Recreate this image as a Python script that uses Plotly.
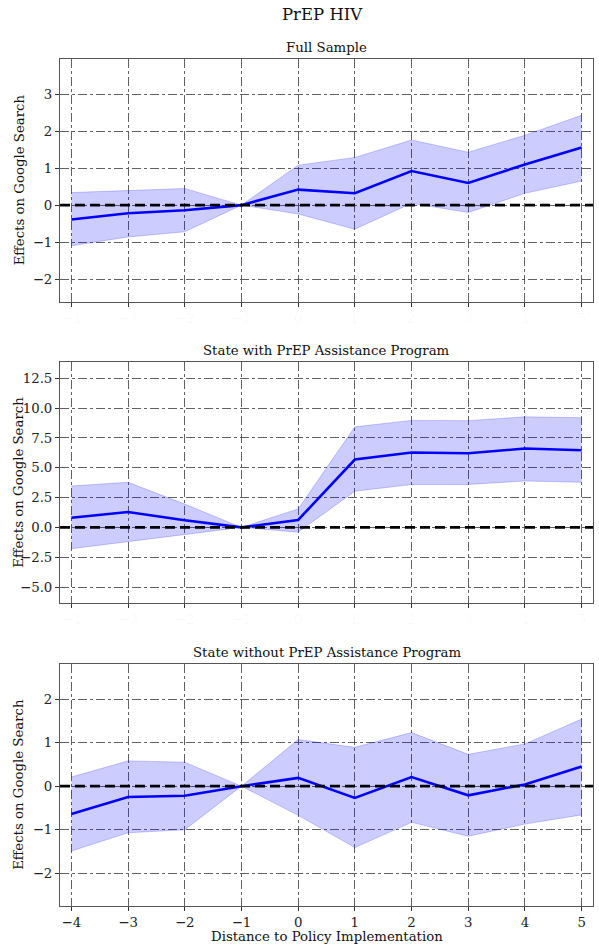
import plotly.graph_objects as go

# ---------------- data ----------------
periods = [-4, -3, -2, -1, 0, 1, 2, 3, 4, 5]

full_est = [-0.39, -0.22, -0.14, 0, 0.42, 0.32, 0.92, 0.60, 1.10, 1.56]
full_hi = [0.34, 0.40, 0.45, 0, 1.08, 1.29, 1.76, 1.43, 1.89, 2.43]
full_lo = [-1.10, -0.86, -0.72, 0, -0.24, -0.65, 0.05, -0.20, 0.32, 0.65]

with_est = [0.81, 1.29, 0.60, 0, 0.62, 5.69, 6.28, 6.22, 6.61, 6.47]
with_hi = [3.47, 3.78, 1.95, 0, 1.55, 8.43, 8.97, 8.95, 9.27, 9.19]
with_lo = [-1.79, -1.18, -0.60, 0, -0.40, 3.03, 3.59, 3.60, 3.89, 3.78]

without_est = [-0.64, -0.25, -0.22, 0, 0.19, -0.27, 0.21, -0.21, 0.04, 0.45]
without_hi = [0.21, 0.58, 0.55, 0, 1.07, 0.89, 1.23, 0.73, 0.97, 1.54]
without_lo = [-1.49, -1.07, -1.00, 0, -0.67, -1.41, -0.83, -1.15, -0.87, -0.66]

panel_titles = ["Full Sample", "State with PrEP Assistance Program",
                "State without PrEP Assistance Program"]
main_title = "PrEP HIV"
y_title = "Effects on Google Search"
x_title = "Distance to Policy Implementation"

panels = [
    (full_est, full_hi, full_lo, [-2.61, 3.95], 1, None),
    (with_est, with_hi, with_lo, [-6.34, 13.84], 2.5, ".1f"),
    (without_est, without_hi, without_lo, [-2.75, 2.81], 1, None),
]

# ---------------- layout geometry (pixels) ----------------
W, H = 599, 947
L, R = 60, 593
T, B = 59, 906
ph = B - T
panel_px = [(59, 301.7), (362.3, 603), (663.7, 906)]


def ydom(top, bot):
    return [(B - bot) / ph, (B - top) / ph]


FONT = "DejaVu Serif"
FS = 13.3
fig = go.Figure()

for i, (est, hi, lo, yr, dt, fmt) in enumerate(panels):
    n = "" if i == 0 else str(i + 1)
    xa, ya = "x" + n, "y" + n
    fig.add_trace(go.Scatter(x=periods, y=hi, mode="lines",
                             line=dict(color="rgba(0,0,255,0.2)", width=1),
                             xaxis=xa, yaxis=ya, showlegend=False, hoverinfo="skip"))
    fig.add_trace(go.Scatter(x=periods, y=lo, mode="lines", fill="tonexty",
                             fillcolor="rgba(0,0,255,0.2)",
                             line=dict(color="rgba(0,0,255,0.2)", width=1),
                             xaxis=xa, yaxis=ya, showlegend=False, hoverinfo="skip"))
    fig.add_trace(go.Scatter(x=periods, y=est, mode="lines",
                             line=dict(color="#0000ff", width=2.6),
                             xaxis=xa, yaxis=ya, showlegend=False))
    fig.add_shape(type="line", xref=xa + " domain", yref=ya, x0=0, x1=1, y0=0, y1=0,
                  line=dict(color="black", width=2.6, dash="10px,5px"), layer="above")

    last = i == 2
    axis_common = dict(showline=True, linecolor="#555555", linewidth=1, mirror=True,
                       showgrid=True, gridcolor="rgba(80,80,80,0.9)", gridwidth=1,
                       griddash="dashdot", zeroline=False, ticks="outside",
                       ticklen=4, tickwidth=1, tickcolor="#333333",
                       tickfont=dict(family=FONT, size=FS, color="#222222"))
    fig.update_layout(**{
        ("xaxis" + n): dict(axis_common, domain=[0, 1], range=[-4.2, 5.2],
                            tickmode="array", tickvals=periods,
                            showticklabels=True,
                            tickfont=dict(family=FONT, size=FS,
                                          color="#222222" if last else "rgba(0,0,0,0.04)"),
                            anchor=ya),
        ("yaxis" + n): dict(axis_common, domain=ydom(*panel_px[i]), range=yr,
                            dtick=dt, tick0=0, tickformat=fmt, anchor=xa),
    })
    # panel title
    fig.add_annotation(text=panel_titles[i], xref="paper", yref="paper",
                       x=0.5, y=(B - panel_px[i][0] + 2) / ph, xanchor="center",
                       yanchor="bottom", showarrow=False,
                       font=dict(family=FONT, size=FS, color="#111111"))
    # y title
    fig.add_annotation(text=y_title, xref="paper", yref="paper",
                       x=(19 - L) / (R - L),
                       y=(B - (panel_px[i][0] + panel_px[i][1]) / 2) / ph,
                       xanchor="center", yanchor="middle", textangle=-90,
                       showarrow=False, font=dict(family=FONT, size=FS, color="#111111"))

fig.add_annotation(text=x_title, xref="paper", yref="paper", x=0.5,
                   y=(B - 936.5) / ph, xanchor="center", yanchor="middle",
                   showarrow=False, font=dict(family=FONT, size=FS, color="#111111"))
fig.add_annotation(text=main_title, xref="paper", yref="paper", x=(322 - L) / (R - L),
                   y=(B - 15) / ph, xanchor="center", yanchor="middle",
                   showarrow=False, font=dict(family=FONT, size=16.5, color="#111111"))

fig.update_layout(width=W, height=H, margin=dict(l=L, r=W - R, t=T, b=H - B, autoexpand=False),
                  plot_bgcolor="white", paper_bgcolor="white")

fig.write_html("out.html", config={"displayModeBar": False},
               post_script="document.body.style.margin='0px';document.body.style.padding='0px';")
